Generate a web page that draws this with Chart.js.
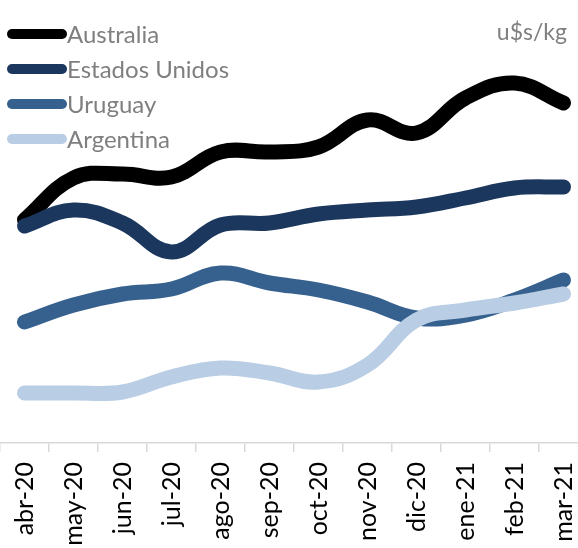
<!DOCTYPE html>
<html>
<head>
<meta charset="utf-8">
<script src="https://cdn.jsdelivr.net/npm/chart.js@4/dist/chart.umd.min.js"></script>
<style>
  html, body { margin: 0; padding: 0; background: #fff; overflow: hidden; }
  #wrap { position: absolute; left: 0; top: 0; width: 588px; height: 548px; }
  canvas { display: block; }
</style>
</head>
<body>
<div id="wrap"><canvas id="c" width="588" height="548" style="width:588px;height:548px"></canvas></div>
<script>
// ---- data (u$s/kg) ----
const categories = ['abr-20','may-20','jun-20','jul-20','ago-20','sep-20','oct-20','nov-20','dic-20','ene-21','feb-21','mar-21'];
const seriesNames = ['Australia','Estados Unidos','Uruguay','Argentina'];
const australia     = [6.46, 7.30, 7.38, 7.32, 7.82, 7.82, 7.92, 8.46, 8.20, 8.90, 9.20, 8.80];
const estadosUnidos = [6.34, 6.66, 6.40, 5.82, 6.36, 6.40, 6.58, 6.66, 6.72, 6.90, 7.10, 7.12];
const uruguay       = [4.42, 4.76, 4.98, 5.08, 5.40, 5.20, 5.06, 4.82, 4.50, 4.56, 4.86, 5.26];
const argentina     = [3.00, 3.00, 3.02, 3.32, 3.50, 3.40, 3.22, 3.56, 4.46, 4.66, 4.80, 4.98];
const unitLabel = 'u$s/kg';

// ---- styles ----
const colors = ['#000000', '#1b375e', '#36618f', '#b9cde5'];
const FONT = 'Lato, "Open Sans", sans-serif';

const seriesData = [australia, estadosUnidos, uruguay, argentina];

const legendPlugin = {
  id: 'customLegend',
  afterDraw(chart) {
    const ctx = chart.ctx;
    ctx.save();
    chart.data.datasets.forEach((ds, i) => {
      const y = 34 + i * 35;
      ctx.beginPath();
      ctx.strokeStyle = ds.borderColor;
      ctx.lineWidth = 10;
      ctx.lineCap = 'round';
      ctx.moveTo(12, y);
      ctx.lineTo(62, y);
      ctx.stroke();
      ctx.fillStyle = '#7f7f7f';
      ctx.font = '24px ' + FONT;
      ctx.textBaseline = 'middle';
      ctx.textAlign = 'left';
      ctx.fillText(ds.label, 67, y + 1);
    });
    ctx.fillStyle = '#7f7f7f';
    ctx.font = '23px ' + FONT;
    ctx.textAlign = 'right';
    ctx.textBaseline = 'middle';
    ctx.fillText(unitLabel, 567, 33);
    ctx.restore();
  }
};

new Chart(document.getElementById('c'), {
  type: 'line',
  data: {
    labels: categories,
    datasets: seriesData.map((d, i) => ({
      label: seriesNames[i],
      data: d,
      borderColor: colors[i],
      backgroundColor: colors[i],
      borderWidth: 15,
      borderCapStyle: 'round',
      borderJoinStyle: 'round',
      pointRadius: 0,
      pointHoverRadius: 0,
      tension: 0.4,
      fill: false,
      order: 3 - i
    }))
  },
  options: {
    responsive: false,
    maintainAspectRatio: false,
    animation: false,
    devicePixelRatio: 1,
    layout: { padding: 0 },
    plugins: {
      legend: { display: false },
      title: { display: false },
      tooltip: { enabled: false }
    },
    scales: {
      x: {
        offset: true,
        grid: {
          offset: true,
          drawOnChartArea: false,
          drawTicks: true,
          tickLength: 9,
          color: '#d9d9d9',
          lineWidth: 1.5
        },
        border: { display: true, color: '#d9d9d9', width: 1.5 },
        ticks: {
          minRotation: 90,
          maxRotation: 90,
          autoSkip: false,
          padding: 10,
          color: '#000000',
          font: { family: FONT, size: 25 }
        },
        afterFit(scale) {
          scale.height = 105;
          scale.paddingLeft = 0;
          scale.paddingRight = 0;
        }
      },
      y: {
        display: false,
        min: 2,
        max: 10.86
      }
    }
  },
  plugins: [legendPlugin]
});
</script>
</body>
</html>
